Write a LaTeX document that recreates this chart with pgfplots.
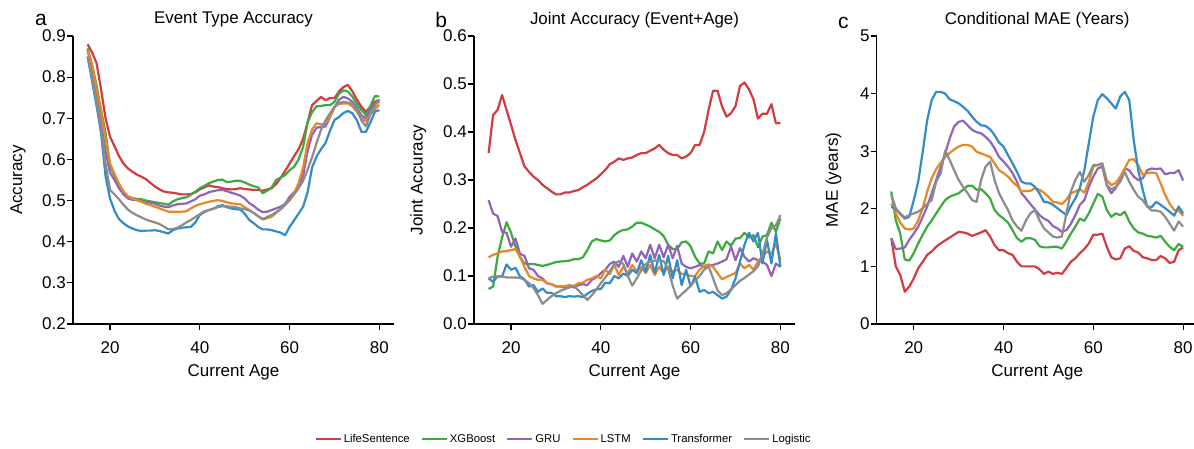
\documentclass[border=0pt]{standalone}
\usepackage{pgfplots}
\usepackage{pgfplotstable}
\usepackage{fontspec}
\setmainfont{Liberation Sans}
\pgfplotsset{compat=1.18}

\definecolor{cLife}{RGB}{210,60,65}
\definecolor{cXGB}{RGB}{60,170,60}
\definecolor{cGRU}{RGB}{145,100,185}
\definecolor{cLSTM}{RGB}{230,135,40}
\definecolor{cTrans}{RGB}{50,140,200}
\definecolor{cLogit}{RGB}{140,140,140}

% Event type accuracy by current age
\pgfplotstableread{
age life xgb gru lstm trans logit
15 .880 .870 .865 .867 .850 .850
16 .860 .830 .820 .830 .790 .800
17 .834 .780 .760 .770 .730 .740
18 .770 .720 .690 .720 .665 .680
19 .700 .665 .620 .650 .560 .590
20 .655 .585 .568 .590 .505 .526
21 .632 .560 .550 .565 .475 .515
22 .608 .540 .530 .540 .455 .503
23 .590 .522 .515 .522 .445 .490
24 .578 .510 .505 .510 .437 .478
25 .570 .506 .502 .505 .432 .470
26 .563 .504 .501 .501 .428 .464
27 .558 .503 .498 .497 .426 .459
28 .552 .500 .496 .492 .427 .454
29 .543 .498 .495 .489 .427 .450
30 .534 .496 .492 .485 .428 .447
31 .527 .494 .488 .481 .426 .443
32 .522 .492 .485 .477 .423 .437
33 .520 .490 .484 .473 .420 .430
34 .519 .498 .488 .473 .428 .431
35 .517 .503 .491 .473 .432 .434
36 .515 .506 .492 .473 .434 .440
37 .515 .508 .493 .474 .435 .447
38 .516 .514 .498 .481 .436 .453
39 .520 .522 .503 .487 .447 .460
40 .527 .530 .512 .491 .465 .467
41 .532 .536 .515 .494 .472 .474
42 .537 .542 .520 .497 .477 .477
43 .534 .546 .523 .499 .480 .480
44 .533 .550 .525 .501 .486 .484
45 .530 .551 .526 .499 .489 .486
46 .528 .545 .523 .496 .484 .486
47 .527 .546 .519 .493 .481 .485
48 .528 .548 .516 .492 .479 .484
49 .530 .548 .512 .491 .478 .481
50 .528 .544 .505 .484 .468 .479
51 .527 .539 .494 .477 .453 .476
52 .526 .535 .487 .470 .445 .470
53 .526 .532 .478 .462 .436 .462
54 .524 .518 .472 .454 .430 .455
55 .527 .524 .473 .457 .430 .460
56 .530 .532 .477 .461 .428 .465
57 .540 .550 .481 .470 .425 .472
58 .555 .556 .485 .479 .422 .479
59 .572 .562 .492 .490 .416 .489
60 .590 .574 .509 .500 .436 .503
61 .608 .582 .520 .518 .452 .515
62 .625 .600 .533 .542 .468 .530
63 .650 .630 .560 .580 .485 .548
64 .690 .690 .620 .640 .520 .575
65 .732 .715 .660 .673 .580 .605
66 .742 .729 .677 .688 .607 .640
67 .752 .730 .679 .685 .625 .672
68 .744 .732 .680 .688 .640 .695
69 .749 .732 .703 .705 .670 .712
70 .749 .740 .727 .727 .696 .728
71 .765 .760 .745 .735 .703 .737
72 .776 .768 .752 .736 .713 .740
73 .781 .765 .748 .736 .718 .738
74 .765 .752 .740 .729 .712 .735
75 .745 .735 .725 .715 .695 .720
76 .728 .720 .707 .700 .667 .695
77 .716 .708 .700 .693 .667 .680
78 .728 .730 .722 .710 .690 .710
79 .740 .754 .735 .722 .716 .730
80 .745 .753 .740 .733 .720 .745
}\tabEvent

% Joint accuracy (event and age)
\pgfplotstableread{
age life xgb gru lstm trans logit
15 .356 .073 .258 .139 .095 .095
16 .435 .078 .230 .144 .088 .099
17 .446 .140 .225 .147 .099 .099
18 .477 .180 .192 .151 .099 .099
19 .446 .212 .190 .152 .124 .097
20 .415 .190 .161 .154 .113 .097
21 .383 .161 .178 .156 .117 .097
22 .356 .139 .146 .140 .099 .096
23 .328 .126 .142 .119 .093 .092
24 .317 .125 .116 .100 .078 .085
25 .307 .125 .113 .095 .081 .075
26 .300 .123 .100 .092 .067 .060
27 .290 .121 .095 .092 .074 .042
28 .283 .123 .085 .085 .065 .050
29 .276 .126 .083 .083 .065 .058
30 .270 .129 .078 .079 .058 .064
31 .270 .130 .078 .078 .058 .069
32 .274 .131 .076 .079 .056 .073
33 .274 .132 .079 .081 .058 .076
34 .277 .135 .076 .079 .057 .079
35 .279 .135 .081 .085 .058 .070
36 .285 .139 .083 .086 .056 .060
37 .290 .154 .081 .092 .063 .050
38 .297 .172 .092 .095 .069 .060
39 .303 .177 .097 .100 .072 .072
40 .312 .174 .106 .095 .073 .085
41 .321 .172 .113 .113 .086 .097
42 .333 .174 .125 .104 .085 .110
43 .338 .185 .130 .123 .100 .125
44 .345 .192 .119 .102 .095 .131
45 .342 .196 .142 .119 .105 .125
46 .345 .197 .119 .106 .100 .100
47 .347 .203 .147 .123 .113 .080
48 .352 .211 .130 .109 .106 .095
49 .356 .211 .151 .119 .133 .112
50 .356 .207 .137 .106 .109 .125
51 .361 .203 .165 .123 .144 .130
52 .366 .197 .137 .102 .106 .132
53 .373 .192 .165 .119 .144 .133
54 .363 .183 .139 .106 .102 .131
55 .356 .165 .165 .119 .142 .115
56 .352 .156 .137 .109 .095 .080
57 .352 .156 .163 .113 .133 .053
58 .345 .170 .126 .104 .081 .062
59 .349 .172 .119 .104 .113 .070
60 .356 .162 .116 .100 .078 .080
61 .373 .140 .119 .100 .099 .090
62 .373 .126 .123 .113 .067 .100
63 .400 .126 .119 .121 .071 .113
64 .446 .151 .123 .124 .064 .120
65 .486 .147 .123 .119 .067 .095
66 .486 .172 .126 .106 .060 .070
67 .453 .154 .130 .093 .053 .060
68 .432 .172 .135 .098 .057 .064
69 .439 .163 .161 .102 .071 .072
70 .454 .178 .133 .106 .095 .081
71 .496 .179 .158 .126 .130 .090
72 .503 .190 .140 .116 .165 .096
73 .489 .180 .130 .123 .190 .103
74 .468 .185 .137 .113 .172 .110
75 .428 .160 .133 .130 .190 .120
76 .438 .182 .130 .140 .126 .145
77 .438 .185 .123 .151 .175 .180
78 .458 .211 .100 .147 .126 .200
79 .418 .192 .126 .168 .189 .205
80 .419 .220 .119 .133 .119 .227
}\tabJoint

% Conditional MAE in years
\pgfplotstableread{
age life xgb gru lstm trans logit
15 1.49 2.30 1.49 2.09 2.04 2.24
16 1.00 1.80 1.30 1.92 1.99 2.01
17 0.85 1.57 1.31 1.76 1.91 1.92
18 0.56 1.12 1.33 1.66 1.83 1.85
19 0.65 1.10 1.46 1.64 1.86 1.89
20 0.79 1.23 1.57 1.66 2.15 1.92
21 0.97 1.40 1.69 1.80 2.47 1.95
22 1.08 1.55 1.86 2.01 2.99 2.01
23 1.20 1.69 2.04 2.30 3.54 2.09
24 1.26 1.80 2.27 2.53 3.89 2.15
25 1.34 1.92 2.50 2.69 4.03 2.47
26 1.40 2.04 2.73 2.80 4.03 2.62
27 1.45 2.15 2.96 2.90 4.00 3.01
28 1.50 2.21 3.22 2.97 3.90 2.85
29 1.55 2.24 3.43 3.03 3.87 2.67
30 1.60 2.27 3.51 3.08 3.83 2.50
31 1.59 2.33 3.53 3.11 3.77 2.38
32 1.57 2.40 3.45 3.11 3.70 2.27
33 1.53 2.40 3.37 3.08 3.60 2.15
34 1.56 2.33 3.33 2.99 3.51 2.12
35 1.59 2.34 3.31 2.96 3.45 2.50
36 1.63 2.27 3.25 2.93 3.44 2.73
37 1.52 2.18 3.17 2.90 3.38 2.82
38 1.37 1.98 3.05 2.79 3.28 2.50
39 1.28 1.89 2.90 2.67 3.15 2.27
40 1.28 1.83 2.82 2.62 3.08 2.12
41 1.23 1.76 2.73 2.56 2.93 1.98
42 1.20 1.63 2.62 2.47 2.79 1.80
43 1.08 1.49 2.47 2.40 2.64 1.69
44 1.00 1.43 2.27 2.30 2.47 1.62
45 1.00 1.49 2.18 2.31 2.44 1.80
46 1.00 1.49 2.08 2.31 2.44 1.92
47 1.00 1.46 1.99 2.36 2.38 1.98
48 0.95 1.35 1.89 2.33 2.27 1.80
49 0.87 1.33 1.83 2.28 2.12 1.66
50 0.91 1.33 1.79 2.21 2.11 1.59
51 0.87 1.34 1.70 2.12 2.07 1.52
52 0.89 1.34 1.66 2.11 2.01 1.50
53 0.87 1.31 1.60 2.08 1.95 1.52
54 0.97 1.43 1.63 2.16 1.89 1.92
55 1.08 1.57 1.74 2.27 2.05 2.30
56 1.14 1.69 1.89 2.30 2.18 2.50
57 1.23 1.83 2.07 2.34 2.36 2.64
58 1.30 1.79 2.15 2.28 2.67 2.47
59 1.40 1.92 2.38 2.47 3.14 2.59
60 1.55 2.09 2.56 2.73 3.60 2.76
61 1.55 2.26 2.70 2.76 3.89 2.76
62 1.57 2.21 2.73 2.78 3.99 2.79
63 1.34 1.98 2.41 2.50 3.92 2.41
64 1.16 1.86 2.27 2.41 3.83 2.34
65 1.12 1.92 2.36 2.45 3.74 2.38
66 1.14 1.89 2.50 2.56 3.95 2.47
67 1.31 1.95 2.70 2.70 4.03 2.64
68 1.35 1.78 2.67 2.85 3.89 2.47
69 1.27 1.66 2.56 2.86 3.19 2.33
70 1.24 1.59 2.50 2.76 2.67 2.21
71 1.16 1.57 2.53 2.59 2.33 2.15
72 1.14 1.53 2.67 2.62 2.04 2.04
73 1.11 1.52 2.70 2.63 2.03 1.97
74 1.11 1.50 2.69 2.62 2.12 1.97
75 1.18 1.53 2.70 2.44 2.07 1.95
76 1.14 1.43 2.60 2.24 2.01 1.86
77 1.06 1.34 2.62 2.09 1.95 1.74
78 1.08 1.28 2.62 1.98 1.88 1.62
79 1.28 1.39 2.67 1.97 2.04 1.78
80 1.33 1.34 2.49 1.88 1.92 1.69
}\tabMAE

\tikzset{letter/.style={font=\fontsize{21}{24}\selectfont, anchor=center}}

\pgfplotsset{
  panel/.style={
    scale only axis, width=321pt, height=288pt, anchor=south west,
    xmin=11.75, xmax=83.25, clip mode=individual,
    axis x line*=bottom, axis y line*=left,
    axis line style={line width=1.1pt,-},
    x axis line style={shorten <=-5pt},
    tick align=outside, major tick length=6pt,
    tick style={black,line width=1.1pt},
    xtick={20,40,60,80},
    /pgf/number format/assume math mode=true,
    ticklabel style={font=\fontsize{17}{20}\selectfont},
    xticklabel style={anchor=north, inner sep=0pt, yshift=-11pt},
    yticklabel style={anchor=east, inner sep=0pt, xshift=-1pt},
    label style={font=\fontsize{17}{20}\selectfont},
    xlabel={Current Age},
    xlabel style={at={(axis description cs:0.5,-0.1667)}, anchor=center},
    title style={at={(axis description cs:0.5,1.035)}, anchor=center,
      font=\fontsize{16.9}{20}\selectfont},
    every axis plot/.append style={line width=2.2pt, line join=round, mark=none},
  },
}

\begin{document}
\begin{tikzpicture}[x=1pt,y=1pt]
\useasboundingbox (0,0) rectangle (1194,449);

\begin{axis}[panel, at={(73pt,125pt)},
  ymin=0.2, ymax=0.9, ytick={0.2,0.3,...,0.9},
  yticklabel style={/pgf/number format/.cd, fixed, fixed zerofill, precision=1},
  ylabel={Accuracy},
  ylabel style={at={(axis description cs:-0.171,0.5)}, anchor=center},
  title={Event Type Accuracy}]
  \addplot[cLife]  table[x=age,y=life]  {\tabEvent};
  \addplot[cXGB]   table[x=age,y=xgb]   {\tabEvent};
  \addplot[cGRU]   table[x=age,y=gru]   {\tabEvent};
  \addplot[cLSTM]  table[x=age,y=lstm]  {\tabEvent};
  \addplot[cTrans] table[x=age,y=trans] {\tabEvent};
  \addplot[cLogit] table[x=age,y=logit] {\tabEvent};
  \node[letter] at (axis description cs:-0.100,1.054) {a};
\end{axis}

\begin{axis}[panel, at={(474pt,125pt)},
  ymin=0, ymax=0.6, ytick={0,0.1,...,0.6},
  yticklabel style={/pgf/number format/.cd, fixed, fixed zerofill, precision=1},
  ylabel={Joint Accuracy},
  ylabel style={at={(axis description cs:-0.174,0.5)}, anchor=center},
  title={Joint Accuracy (Event+Age)}]
  \addplot[cLife]  table[x=age,y=life]  {\tabJoint};
  \addplot[cXGB]   table[x=age,y=xgb]   {\tabJoint};
  \addplot[cGRU]   table[x=age,y=gru]   {\tabJoint};
  \addplot[cLSTM]  table[x=age,y=lstm]  {\tabJoint};
  \addplot[cTrans] table[x=age,y=trans] {\tabJoint};
  \addplot[cLogit] table[x=age,y=logit] {\tabJoint};
  \node[letter] at (axis description cs:-0.102,1.055) {b};
\end{axis}

\begin{axis}[panel, at={(876.7pt,125pt)},
  ymin=0, ymax=5, ytick={0,1,...,5},
  ylabel={MAE (years)},
  ylabel style={at={(axis description cs:-0.135,0.5)}, anchor=center},
  title={Conditional MAE (Years)},
  legend columns=6,
  legend cell align=left,
  legend image code/.code={\draw[#1,line width=2.2pt] (0pt,0pt) -- (25pt,0pt);},
  legend style={at={(axis description cs:-0.9754,-0.3993)}, anchor=center,
    draw=none, fill=none, font=\fontsize{11.3}{13}\selectfont,
    /tikz/every even column/.append style={column sep=9pt}}]
  \addplot[cLife]  table[x=age,y=life]  {\tabMAE};
  \addlegendentry{LifeSentence}
  \addplot[cXGB]   table[x=age,y=xgb]   {\tabMAE};
  \addlegendentry{XGBoost}
  \addplot[cGRU]   table[x=age,y=gru]   {\tabMAE};
  \addlegendentry{GRU}
  \addplot[cLSTM]  table[x=age,y=lstm]  {\tabMAE};
  \addlegendentry{LSTM}
  \addplot[cTrans] table[x=age,y=trans] {\tabMAE};
  \addlegendentry{Transformer}
  \addplot[cLogit] table[x=age,y=logit] {\tabMAE};
  \addlegendentry{Logistic}
  \node[letter] at (axis description cs:-0.1036,1.046) {c};
\end{axis}
\end{tikzpicture}
\end{document}
